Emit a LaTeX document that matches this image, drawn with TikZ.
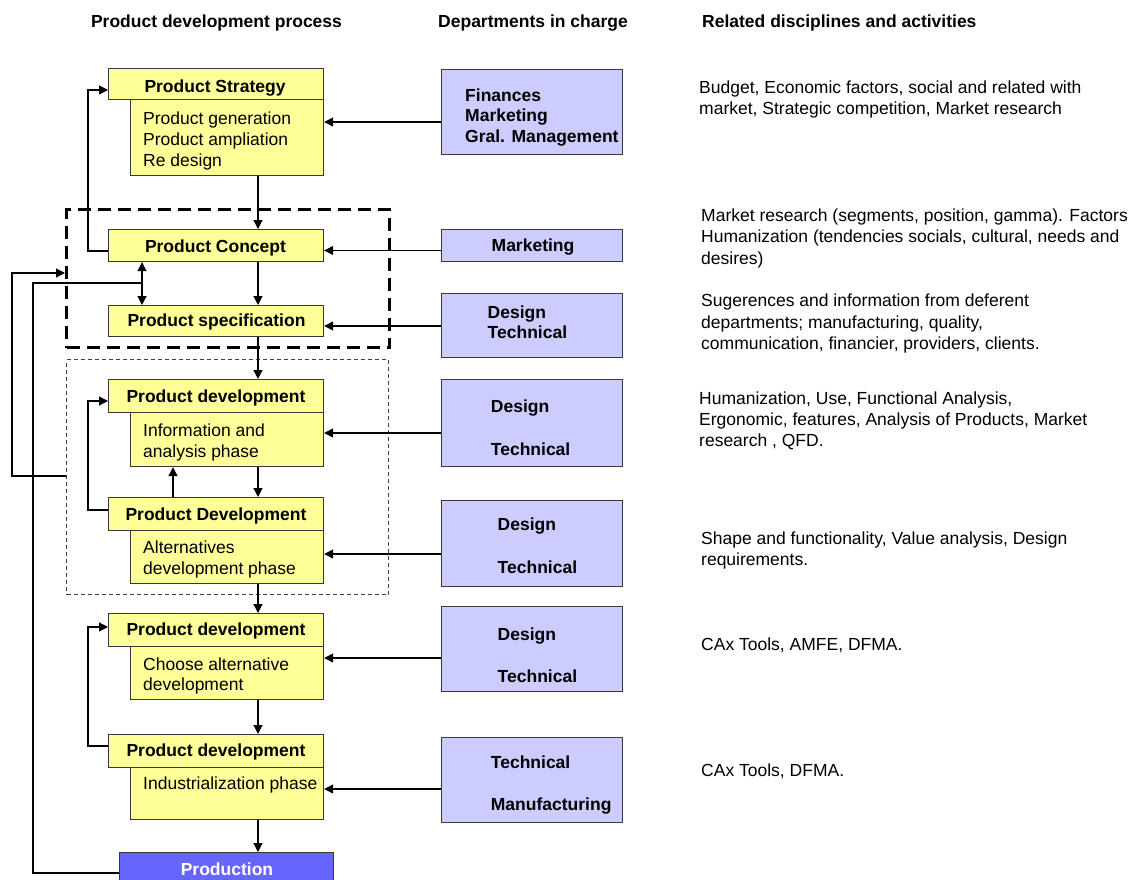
\documentclass[tikz,border=0pt]{standalone}
\usepackage{fontspec}
\setmainfont{Liberation Sans}
\usetikzlibrary{arrows.meta}
\definecolor{stagefill}{HTML}{FFFF99}
\definecolor{deptfill}{HTML}{CCCCFF}
\definecolor{prodfill}{HTML}{6666FF}
\definecolor{edgegray}{HTML}{383838}

\begin{document}
\begin{tikzpicture}[x=1pt,y=-1pt,
  font=\fontsize{17.5pt}{21pt}\selectfont,
  box/.style={draw=edgegray, line width=1.2pt, rectangle, inner sep=0pt, anchor=north west},
  stage/.style={box, fill=stagefill},
  dept/.style={box, fill=deptfill},
  prodbox/.style={box, fill=prodfill},
  txt/.style={inner sep=0pt, anchor=base west},
  ctxt/.style={inner sep=0pt, anchor=base},
  bf/.style={font=\fontsize{17.5pt}{21pt}\selectfont\bfseries},
  link/.style={draw=black, line width=1.2pt},
  arr/.style={link, -{Triangle[length=9pt,width=9pt]}},
  biarr/.style={link, {Triangle[length=9pt,width=9pt]}-{Triangle[length=9pt,width=9pt]}},
  phasegroup/.style={draw=black, line width=3pt, dash pattern=on 13pt off 7pt, rectangle, inner sep=0pt, anchor=north west},
  devgroup/.style={draw=black!75, line width=1pt, dash pattern=on 4pt off 3pt, rectangle, inner sep=0pt, anchor=north west}
]
\useasboundingbox (0,0) rectangle (1135,880);
\fill[white] (0,0) rectangle (1135,880);
\clip (0,0) rectangle (1135,880);

% column titles
\node[ctxt,bf] (title1) at (216.5,28) {Product development process};
\node[txt,bf]  (title2) at (438,28) {Departments in charge};
\node[txt,bf]  (title3) at (702,28) {Related disciplines and activities};

% grouping frames
\node[phasegroup, minimum width=323pt, minimum height=138pt] (dashbox) at (65,208) {};
\node[devgroup, minimum width=322pt, minimum height=235pt] (dotbox) at (66,359) {};

% process stages (header + body)
\node[stage, minimum width=193pt, minimum height=76pt] (s1b) at (130,99) {};
\node[stage, minimum width=215pt, minimum height=31pt] (s1h) at (108,68) {};
\node[stage, minimum width=215pt, minimum height=32pt] (s2)  at (108,229) {};
\node[stage, minimum width=215pt, minimum height=31pt] (s3)  at (108,305) {};
\node[stage, minimum width=193pt, minimum height=54pt] (s4b) at (130,412) {};
\node[stage, minimum width=215pt, minimum height=33pt] (s4h) at (108,379) {};
\node[stage, minimum width=193pt, minimum height=53pt] (s5b) at (130,530) {};
\node[stage, minimum width=215pt, minimum height=33pt] (s5h) at (108,497) {};
\node[stage, minimum width=193pt, minimum height=53pt] (s6b) at (130,646) {};
\node[stage, minimum width=215pt, minimum height=33pt] (s6h) at (108,613) {};
\node[stage, minimum width=193pt, minimum height=52pt] (s7b) at (130,767) {};
\node[stage, minimum width=215pt, minimum height=33pt] (s7h) at (108,734) {};
\node[prodbox, minimum width=214pt, minimum height=40pt] (prod) at (119,852) {};

% departments
\node[dept, minimum width=181pt, minimum height=85pt] (d1) at (441,69) {};
\node[dept, minimum width=181pt, minimum height=32pt] (d2) at (441,229) {};
\node[dept, minimum width=181pt, minimum height=64pt] (d3) at (441,293) {};
\node[dept, minimum width=181pt, minimum height=87pt] (d4) at (441,379) {};
\node[dept, minimum width=181pt, minimum height=86pt] (d5) at (441,500) {};
\node[dept, minimum width=181pt, minimum height=85pt] (d6) at (441,606) {};
\node[dept, minimum width=181pt, minimum height=85pt] (d7) at (441,737) {};

% main flow
\draw[arr] (s1b.south -| 258,0) -- (s2.north -| 258,0);
\draw[arr] (s2.south -| 258,0) -- (s3.north -| 258,0);
\draw[arr] (s3.south -| 258,0) -- (s4h.north -| 258,0);
\draw[arr] (s4b.south -| 258,0) -- (s5h.north -| 258,0);
\draw[arr] (s5b.south -| 258,0) -- (s6h.north -| 258,0);
\draw[arr] (s6b.south -| 258,0) -- (s7h.north -| 258,0);
\draw[arr] (s7b.south -| 258,0) -- (prod.north -| 258,0);
\draw[arr] (s5h.north -| 173,0) -- (s4b.south -| 173,0);
\draw[biarr] (s2.south -| 142,0) -- (s3.north -| 142,0);
\coordinate (merge) at (142,283);

% feedback loops
\draw[arr] (s2.west |- 0,251) -- ++(-20,0) |- (s1h.west |- 0,90);
\draw[arr] (s5h.west |- 0,510) -- ++(-20,0) |- (s4h.west |- 0,401);
\draw[arr] (s7h.west |- 0,746) -- ++(-20,0) |- (s6h.west |- 0,627);
\draw[arr] (dotbox.west |- 0,476) -- (12,476) |- (dashbox.west |- 0,273);
\draw[link] (prod.west |- 0,873) -- (33,873) |- (merge);

% department inputs
\draw[arr] (d1.west |- 0,122) -- (s1b.east |- 0,122);
\draw[arr] (d2.west |- 0,250.5) -- (s2.east |- 0,250.5);
\draw[arr] (d3.west |- 0,326) -- (s3.east |- 0,326);
\draw[arr] (d4.west |- 0,433) -- (s4b.east |- 0,433);
\draw[arr] (d5.west |- 0,554) -- (s5b.east |- 0,554);
\draw[arr] (d6.west |- 0,658) -- (s6b.east |- 0,658);
\draw[arr] (d7.west |- 0,789) -- (s7b.east |- 0,789);

% stage labels
\node[ctxt,bf] (l1h) at (215,92.3) {Product Strategy};
\node[txt] (l1a) at (143,125) {Product generation};
\node[txt] (l1b) at (143,146) {Product ampliation};
\node[txt] (l1c) at (143,167) {Re design};
\node[ctxt,bf] (l2) at (215.5,252.7) {Product Concept};
\node[ctxt,bf] (l3) at (216.5,326.7) {Product specification};
\node[ctxt,bf] (l4h) at (216,402.5) {Product development};
\node[txt] (l4a) at (143,436.7) {Information and};
\node[txt] (l4b) at (143,457.3) {analysis phase};
\node[ctxt,bf] (l5h) at (216,520) {Product Development};
\node[txt] (l5a) at (143,553.3) {Alternatives};
\node[txt] (l5b) at (143,574) {development phase};
\node[ctxt,bf] (l6h) at (216,635.7) {Product development};
\node[txt] (l6a) at (143,670) {Choose alternative};
\node[txt] (l6b) at (143,690.7) {development};
\node[ctxt,bf] (l7h) at (216,756.7) {Product development};
\node[txt] (l7a) at (143,789.3) {Industrialization phase};
\node[ctxt,bf,text=white] (lp) at (227,875) {Production};

% department labels
\node[txt,bf] (m1a) at (465,101.7) {Finances};
\node[txt,bf] (m1b) at (465,121.7) {Marketing};
\node[txt,bf] (m1c) at (465,142.3) {Gral. Management};
\node[ctxt,bf] (m2) at (533,251) {Marketing};
\node[txt,bf] (m3a) at (487.5,318.3) {Design};
\node[txt,bf] (m3b) at (487.5,338.3) {Technical};
\node[txt,bf] (m4a) at (490.7,412.3) {Design};
\node[txt,bf] (m4b) at (490.7,455) {Technical};
\node[txt,bf] (m5a) at (497.5,530.7) {Design};
\node[txt,bf] (m5b) at (497.5,573.3) {Technical};
\node[txt,bf] (m6a) at (497.5,640) {Design};
\node[txt,bf] (m6b) at (497.5,682.3) {Technical};
\node[txt,bf] (m7a) at (490.7,768.3) {Technical};
\node[txt,bf] (m7b) at (490.7,810) {Manufacturing};

% related disciplines
\node[txt] (r1a) at (699,93.3) {Budget, Economic factors, social and related with};
\node[txt] (r1b) at (699,114.3) {market, Strategic competition, Market research};
\node[txt] (r2a) at (701,221.7) {Market research (segments, position, gamma). Factors};
\node[txt] (r2b) at (701,242.7) {Humanization (tendencies socials, cultural, needs and};
\node[txt] (r2c) at (701,264) {desires)};
\node[txt] (r3a) at (701,306.7) {Sugerences and information from deferent};
\node[txt] (r3b) at (701,328.3) {departments; manufacturing, quality,};
\node[txt] (r3c) at (701,349.3) {communication, financier, providers, clients.};
\node[txt] (r4a) at (699,404) {Humanization, Use, Functional Analysis,};
\node[txt] (r4b) at (699,425) {Ergonomic, features, Analysis of Products, Market};
\node[txt] (r4c) at (699,446) {research , QFD.};
\node[txt] (r5a) at (701,544) {Shape and functionality, Value analysis, Design};
\node[txt] (r5b) at (701,565) {requirements.};
\node[txt] (r6) at (701,650) {CAx Tools, AMFE, DFMA.};
\node[txt] (r7) at (701,776.7) {CAx Tools, DFMA.};
\end{tikzpicture}
\end{document}
